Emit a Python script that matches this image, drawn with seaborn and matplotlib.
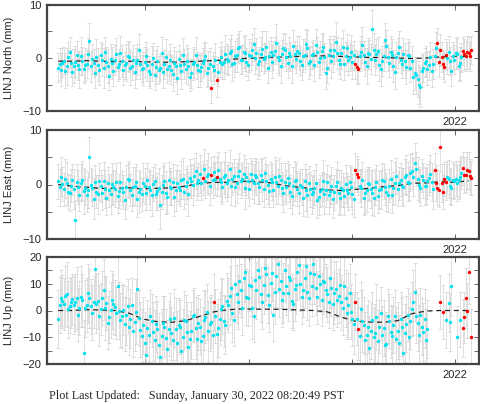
import numpy as np
import pandas as pd
import matplotlib
matplotlib.use("Agg")
import matplotlib.pyplot as plt
from matplotlib.ticker import MultipleLocator
import seaborn as sns

sns.set_style("ticks")
plt.rcParams["font.family"] = ["Liberation Sans", "DejaVu Sans"]

# ================================
# DATA (5-day GPS solutions, mm)
# ================================
dates = pd.date_range("2018-02-28", periods=293, freq="5D")
years = np.asarray(dates.year + (dates.dayofyear - 1) / 365.25)
nan = np.nan

north = [
    -1.8, -1.2, -2.2, -0.9, -0.5, -2.4, -1.6, 0.2, 1.1, -1.0,
    -2.7, -1.5, -0.8, 0.5, -1.4, -2.1, 0.3, -0.6, -2.0, -1.3,
    -1.1, 0.8, 3.3, -1.6, -0.2, -0.9, -2.9, 0.1, -1.3, -2.2,
    0.6, -0.4, -1.9, 1.2, -0.7, -1.5, -3.4, -0.2, -1.0, -2.5,
    -0.4, 0.7, -1.7, -1.1, 1.0, -0.5, -2.3, -1.4, -0.9, 0.4,
    0.2, -1.8, -1.5, -0.3, -2.6, -1.0, -0.3, 1.5, -1.2, -2.0,
    -1.9, -0.7, 0.4, -1.3, -2.4, -3.0, -1.1, 0.0, -3.3, -1.7,
    -0.6, -2.2, -1.8, 0.9, -2.7, -1.2, 0.1, -2.0, -1.5, -0.4,
    -2.2, -3.1, -0.9, -1.6, -3.8, -0.2, -1.3, -2.5, 0.5, -1.1,
    -2.0, -0.6, -1.6, -3.5, -2.9, -1.2, -0.8, 0.6, -1.4, -2.3,
    -2.5, -1.7, -1.0, -0.3, 0.3, -2.8, -1.9, -1.1, -5.6, -1.6,
    -2.3, -0.4, -4.2, -2.6, -0.7, 0.2, -1.2, -0.8, 0.8, -0.2,
    -0.5, 0.9, 1.4, -1.1, -0.9, 0.3, 0.6, 1.8, 2.1, -0.4,
    -0.3, 1.1, 1.0, -0.8, -1.4, 0.5, 0.4, 1.6, 2.6, 0.0,
    0.9, -1.2, -0.6, 0.7, 1.7, -0.1, 0.2, 2.0, -1.8, 0.4,
    1.2, -0.7, 0.5, 1.4, 2.9, 0.1, -0.4, -1.5, 0.8, 1.9,
    1.5, 0.2, -0.9, 0.9, 0.3, -1.6, 2.2, 0.7, -0.2, 1.3,
    1.0, -0.5, -1.3, 0.4, 0.6, 2.7, 1.9, -0.9, -0.5, 0.5,
    0.8, -1.4, 2.4, 1.1, -0.8, 0.0, 1.3, 2.0, 0.1, -2.8,
    -1.9, 0.6, 1.6, -0.6, 0.4, 1.5, 3.1, 0.9, -0.3, -1.1,
    0.9, 2.1, -1.2, 0.3, 1.8, -0.4, 0.2, 1.2, -0.7, 0.5,
    -1.2, -1.7, -2.0, 0.4, 1.1, 2.5, 0.5, -0.8, -1.5, 0.9,
    0.7, -0.2, 5.5, 1.6, -0.4, 0.8, 1.4, -1.3, -2.1, -0.6,
    0.3, 3.4, 2.2, 0.1, -0.9, 1.2, 0.6, -1.5, -2.6, 0.2,
    1.0, 2.0, -0.3, -1.1, 0.8, -0.5, -1.7, 0.6, 0.4, -1.9,
    -0.6, -3.6, -2.9, -3.3, -4.0, -5.0, -5.5, -2.4, -1.8, -0.9,
    -0.6, -2.0, -1.4, 0.2, -2.5, -1.1, 0.3, 1.9, 2.8, -0.8,
    1.5, 0.2, -1.2, -1.7, 0.6, 0.0, 1.1, -0.6, -2.4, 0.4,
    -0.3, 1.0, 0.8, -1.5, -1.0, 0.1, 1.3, 0.7, 0.4, 1.1,
    0.9, 0.3, 1.5,
]
north_err = [
    2.8, 3.0, 3.1, 2.7, 2.6, 3.3, 3.4, 2.9, 2.9, 2.6,
    2.5, 3.2, 3.0, 2.8, 2.7, 3.5, 3.6, 2.7, 2.8, 3.1,
    2.6, 2.9, 3.3, 3.0, 2.9, 2.6, 2.7, 3.4, 3.1, 2.8,
    2.5, 3.0, 3.8, 2.7, 2.8, 3.2, 2.6, 2.9, 3.0, 2.7,
    2.9, 3.1, 2.6, 2.8, 3.2, 3.0, 2.7, 2.6, 3.5, 2.9,
    2.8, 3.3, 2.6, 2.7, 3.0, 2.9, 2.9, 3.1, 2.7, 2.6,
    3.1, 2.8, 2.6, 3.0, 2.8, 2.7, 3.3, 2.9, 2.7, 3.2,
    2.9, 2.6, 2.6, 3.1, 3.0, 2.8, 3.4, 2.7, 2.8, 3.0,
    2.7, 3.2, 3.0, 2.9, 2.9, 2.6, 2.6, 3.3, 3.2, 2.8,
    2.8, 3.0, 3.5, 2.7, 2.7, 2.9, 2.9, 3.4, 2.6, 3.1,
    3.0, 2.7, 2.8, 3.1, 2.7, 2.6, 3.3, 3.0, 2.9, 2.8,
    2.6, 3.2, 3.1, 2.7, 2.8, 2.9, 2.7, 3.1, 3.6, 2.8,
    2.8, 2.6, 3.0, 3.3, 2.6, 2.9, 3.2, 2.8, 2.9, 2.7,
    2.7, 3.0, 3.4, 2.6, 2.8, 3.1, 2.6, 2.9, 3.1, 3.0,
    2.9, 2.7, 2.7, 3.2, 3.3, 2.8, 2.6, 3.0, 3.0, 2.9,
    2.8, 3.1, 2.7, 2.6, 3.5, 2.9, 2.9, 3.3, 2.6, 2.8,
    3.1, 2.7, 2.8, 3.0, 2.7, 3.2, 3.0, 2.6, 2.6, 2.9,
    3.2, 2.8, 2.9, 3.1, 2.7, 2.7, 3.4, 3.0, 2.8, 2.6,
    2.6, 3.0, 3.0, 2.8, 2.9, 3.3, 3.3, 2.7, 2.8, 3.1,
    2.8, 2.9, 2.6, 3.2, 3.1, 2.6, 3.6, 3.0, 2.7, 2.8,
    2.9, 3.1, 3.0, 2.7, 2.8, 2.9, 2.6, 3.2, 3.2, 2.7,
    2.7, 3.0, 2.9, 2.8, 3.0, 3.4, 2.8, 2.6, 3.4, 2.9,
    2.7, 2.8, 3.5, 3.1, 2.9, 2.7, 2.6, 3.0, 3.1, 2.8,
    2.8, 3.2, 3.0, 2.6, 2.7, 2.9, 2.9, 3.1, 3.3, 2.8,
    2.8, 3.0, 2.6, 2.7, 3.0, 3.3, 3.2, 2.9, 2.7, 2.6,
    2.9, 3.2, 3.1, 3.5, 3.4, 3.6, 3.8, 3.0, 2.8, 2.7,
    2.9, 3.1, 2.7, 2.9, 3.0, 2.8, 2.6, 3.0, 2.8, 2.7,
    3.1, 2.9, 2.7, 2.8, 2.9, 3.1, 3.0, 2.7, 2.8, 2.6,
    2.7, 3.0, 2.9, 2.8, 3.1, 2.7, 2.6, 2.9, 2.8, 3.1,
    3.0, 2.8, 2.7,
]
north_red = [108, 112, 210, 211, 212, 268, 269, 270, 271, 272, 273, 274,
             286, 287, 288, 289, 290, 291, 292]
north_model = [
    -0.6, -0.6, -0.5, -0.6, -0.7, -0.6, -0.7, -0.8, -0.8, -0.7,
    -0.6, -0.5, -0.3, -0.1, 0.0, 0.1, 0.2, 0.3, 0.4, 0.4,
    0.3, 0.2, 0.1, 0.1, 0.0, -0.1, 0.0, 0.2, 0.3, 0.3,
]

east = [
    0.6, -0.5, 1.4, 0.1, -0.9, 1.1, 0.2, -1.3, -1.6, -0.2,
    0.9, -0.8, -6.5, 0.5, -0.4, -1.9, 0.3, 0.8, -1.2, -0.6,
    -2.0, -1.0, 5.0, 0.0, -0.7, -2.6, 0.4, -1.3, -1.8, 0.6,
    -0.3, -1.5, 0.7, -0.9, -2.4, 0.2, -1.1, -1.7, 0.1, -0.5,
    -0.9, 0.4, -2.2, -1.2, 0.5, -0.6, -1.4, -2.9, -0.5, 1.0,
    0.8, -1.0, -1.9, -0.4, -0.2, 0.5, -2.7, -1.3, -0.8, -1.8,
    0.3, -0.2, -1.6, 0.9, -0.4, -1.1, -2.0, 0.1, 0.6, -1.7,
    -1.2, -0.6, -3.8, -1.4, -0.1, 0.7, -1.5, -2.3, 0.9, -0.4,
    -0.7, 0.5, -2.3, -1.1, 0.2, -0.5, -1.0, 0.9, 1.1, -1.3,
    -0.3, 0.4, -1.7, 1.2, 0.7, -0.1, 1.5, 2.4, 0.2, 0.9,
    2.0, 0.3, 1.2, 2.8, 0.6, 1.5, 1.9, -0.2, 1.7, 0.8,
    2.3, 1.1, 1.4, 2.6, 1.0, 0.4, -0.5, 1.3, 1.8, 0.2,
    0.9, 2.9, -0.2, 1.0, 1.6, -0.4, 0.3, 1.5, 2.4, 0.6,
    1.1, 2.0, -0.6, 1.4, 0.7, -0.9, 1.9, 0.8, 0.2, 1.7,
    1.3, 0.3, -0.4, 1.8, 0.8, -0.8, 2.1, 0.6, 0.0, -1.2,
    1.0, 0.5, -1.1, 1.4, 0.5, -0.3, 1.6, 0.9, -0.7, -1.6,
    0.4, -0.5, 1.2, 0.2, -1.3, -2.1, -0.2, 0.6, 0.9, -0.8,
    -1.6, -0.1, -0.5, -2.4, 0.6, -1.0, -2.0, 0.3, -0.9, -1.8,
    -1.4, -0.6, 0.2, -2.9, -2.3, -1.2, -0.8, 0.7, -1.7, -1.1,
    0.4, -2.0, -1.2, -0.2, -2.6, -1.4, -0.3, 0.5, -1.5, -2.4,
    -0.6, -1.0, -2.1, 0.1, -1.0, -1.6, 0.5, -0.4, -1.8, -2.7,
    2.6, 1.9, 1.4, -0.3, -0.7, 0.8, -2.4, -1.5, -1.1, 0.2,
    0.1, -0.8, -1.6, -2.5, -0.4, 0.4, -2.2, -1.0, -0.9, 0.9,
    0.6, -0.5, -1.3, -2.0, -0.2, 1.0, -1.9, -0.7, 0.3, 1.5,
    -0.8, 0.2, 0.9, -0.3, -0.5, 1.4, 1.7, 0.5, 0.2, 2.2,
    2.5, 1.3, 4.0, 2.8, 1.1, 0.0, -0.6, 1.6, 0.8, -0.2,
    -0.3, 0.6, 1.2, 2.0, 0.4, -0.9, 2.7, 0.3, -0.6, -1.0,
    6.9, 0.2, -1.4, 1.0, 0.5, 1.3, 1.0, -0.3, -0.6, 0.8,
    0.7, 1.1, 0.2, 0.9, 1.3, 2.2, 3.0, 1.7, 1.8, 2.6,
    2.4, 1.5, 1.2,
]
east_err = [
    3.2, 3.4, 3.6, 3.1, 3.0, 3.5, 3.9, 3.2, 3.3, 3.0,
    2.9, 3.7, 3.5, 3.3, 3.1, 2.9, 3.4, 3.6, 4.2, 3.2,
    3.0, 3.3, 3.7, 3.1, 3.3, 3.8, 3.1, 3.0, 3.6, 3.4,
    2.9, 3.2, 3.4, 3.5, 3.2, 3.0, 3.0, 3.7, 3.8, 3.1,
    3.3, 3.5, 3.0, 3.2, 3.6, 3.1, 3.1, 3.4, 4.0, 3.3,
    3.2, 3.0, 3.0, 3.6, 3.5, 3.2, 3.3, 3.9, 3.1, 3.0,
    3.6, 3.3, 3.0, 3.1, 3.2, 3.5, 3.8, 3.2, 3.1, 3.0,
    3.4, 3.6, 4.3, 3.1, 3.5, 3.3, 3.9, 3.0, 3.2, 3.4,
    3.1, 3.2, 3.5, 3.7, 3.3, 3.1, 3.0, 3.5, 3.7, 3.2,
    3.2, 3.0, 4.0, 3.4, 3.1, 3.6, 3.4, 3.3, 3.0, 3.1,
    3.5, 3.2, 3.2, 3.8, 3.1, 3.0, 3.8, 3.5, 3.3, 3.2,
    3.0, 3.1, 3.6, 3.4, 3.2, 3.7, 3.1, 3.0, 4.1, 3.3,
    3.2, 3.5, 3.5, 3.0, 3.0, 3.6, 3.7, 3.2, 3.3, 3.1,
    3.1, 3.4, 3.9, 3.3, 3.2, 3.0, 3.0, 3.5, 3.6, 3.2,
    3.3, 3.8, 3.1, 3.1, 3.8, 3.4, 3.0, 3.2, 3.5, 3.0,
    3.2, 3.3, 3.1, 3.6, 4.0, 3.2, 3.3, 3.0, 3.0, 3.4,
    3.6, 3.1, 3.2, 3.5, 3.1, 3.3, 3.5, 3.7, 3.0, 3.2,
    3.7, 3.0, 3.3, 3.4, 3.1, 3.9, 3.9, 3.1, 3.2, 3.6,
    3.0, 3.2, 3.5, 3.3, 3.3, 3.0, 3.1, 3.8, 3.8, 3.1,
    3.2, 3.5, 3.0, 3.4, 3.6, 3.2, 3.1, 3.6, 4.1, 3.0,
    3.3, 3.2, 3.5, 3.5, 3.2, 3.1, 3.0, 3.7, 3.7, 3.2,
    3.1, 3.3, 3.3, 3.0, 3.5, 3.4, 3.2, 3.9, 3.9, 3.1,
    3.1, 3.5, 4.0, 3.3, 3.3, 3.2, 3.0, 3.4, 3.6, 3.0,
    3.2, 3.3, 3.5, 3.1, 3.1, 3.5, 3.3, 3.0, 3.8, 3.3,
    3.2, 3.0, 3.0, 3.4, 3.5, 3.2, 3.7, 3.6, 3.1, 3.4,
    3.3, 3.5, 3.6, 3.1, 3.9, 3.3, 3.4, 3.0, 3.2, 3.5,
    3.3, 3.2, 3.1, 3.4, 3.5, 3.6, 3.0, 3.3, 3.2, 3.1,
    4.4, 3.5, 3.1, 3.2, 3.3, 3.0, 3.5, 3.3, 3.2, 3.4,
    3.1, 3.2, 3.3, 3.5, 3.6, 3.1, 3.0, 3.3, 3.2, 3.4,
    3.5, 3.2, 3.1,
]
east_red = [102, 108, 112, 210, 211, 212, 266, 267, 268, 269, 270, 271,
            272, 273, 274, 286, 287, 288, 289, 290, 291, 292]
east_model = [
    0.0, -0.3, -0.5, -0.7, -0.7, -0.6, -0.8, -0.7, -0.6, -0.3,
    0.2, 0.4, 0.4, 0.6, 0.5, 0.3, -0.2, -0.5, -0.8, -1.0,
    -1.1, -0.9, -0.7, -0.4, -0.2, 0.2, 0.3, 0.5, 0.4, 0.7,
]

up = [
    -3.2, 2.0, 4.8, 3.5, 2.5, 5.5, 6.0, 0.5, 1.8, 3.0,
    4.2, 2.2, 3.0, 4.5, -1.5, 1.0, 5.2, 3.8, -16.0, 0.8,
    2.1, 6.5, 4.5, 1.5, -0.8, 3.2, 15.5, 2.6, 3.6, -2.0,
    0.5, 4.8, 7.8, 1.0, 2.9, -4.5, -2.4, 0.2, 4.0, 2.5,
    1.2, -1.0, 9.0, 0.0, -3.5, -2.2, 0.3, -5.0, -1.8, 1.5,
    -6.0, -3.0, 2.2, -7.5, -4.3, -0.5, 8.0, -2.8, -7.2, -9.5,
    -5.5, -12.0, -16.6, -6.5, -9.0, -2.0, -3.8, -8.0, -11.2, -5.0,
    -7.0, -13.0, -17.5, -9.5, -4.5, -6.0, -10.3, -14.5, -6.8, -3.0,
    -8.5, -11.0, -2.9, -7.0, -12.0, -5.5, -6.2, -15.0, -9.8, -3.5,
    -4.0, -8.0, -13.5, -10.5, -7.5, -2.0, -1.8, -6.5, -10.6, -4.5,
    -6.0, -11.5, -9.5, -3.5, -2.5, -0.5, -7.8, -5.0, -4.2, -9.0,
    3.0, -2.0, -8.8, -6.5, -3.0, 0.5, 1.5, -4.0, -5.5, 3.5,
    2.0, 5.5, 8.5, -1.0, -3.5, 10.0, 6.2, 3.0, 11.0, 7.5,
    0.8, 12.0, 14.5, 5.0, 4.5, 9.5, 9.0, 1.0, -2.0, 11.5,
    7.5, 15.0, 12.5, 6.0, 3.2, 9.5, 16.0, 13.5, 5.8, 2.0,
    10.2, 14.0, -1.5, 7.0, 13.0, 17.5, 8.0, 11.0, 4.0, 6.5,
    15.0, 9.0, 6.5, 12.5, 11.5, 3.5, 2.5, 8.0, 9.5, 14.5,
    17.0, 10.0, 5.0, 7.5, 12.0, 16.5, 7.0, 4.5, 14.0, 9.0,
    17.5, 13.5, 8.5, 5.0, 13.0, 10.0, 4.0, 11.0, 10.5, 7.5,
    6.0, 3.0, 12.0, 8.5, 2.5, 6.5, 8.0, 4.0, 5.5, 9.5,
    3.0, 1.0, 9.0, 4.5, -1.0, 2.0, 6.5, -0.5, -3.0, -5.0,
    3.2, -3.0, -7.0, -9.5, 0.5, -4.0, -5.5, -11.0, -9.0, -6.0,
    -14.0, -7.5, -3.5, -10.0, -8.5, -2.5, -11.5, -6.0, -1.0, -9.0,
    -6.5, -13.0, -12.5, -2.0, -4.0, -8.0, -9.5, -5.5, -2.0, -10.5,
    -7.5, -12.0, -3.0, -6.0, -16.0, -8.5, -5.0, -1.5, -10.0, -4.0,
    0.5, 3.0, 7.0, -2.0, -4.5, -9.0, -1.5, -6.0, -8.0, -3.0,
    -11.0, -7.0, nan, nan, nan, nan, nan, nan, nan, nan,
    3.2, nan, -0.5, nan, -3.5, nan, 2.8, -4.3, 9.0, nan,
    nan, nan, -10.0, nan, -3.5, nan, -6.5, -2.5, 4.7, 0.0,
    14.5, nan, -10.0,
]
up_err = [
    11.0, 10.4, 10.5, 9.9, 9.8, 11.3, 12.0, 10.6, 10.2, 9.7,
    9.5, 10.8, 10.8, 11.6, 9.9, 10.2, 11.5, 9.8, 12.5, 10.7,
    10.0, 11.0, 11.2, 10.3, 10.4, 9.6, 12.8, 10.9, 10.6, 11.4,
    9.7, 10.1, 11.4, 12.0, 10.1, 9.9, 9.8, 10.5, 10.9, 11.1,
    10.3, 9.8, 11.6, 10.6, 10.0, 11.9, 9.6, 10.2, 11.1, 10.4,
    10.5, 11.2, 9.9, 10.0, 10.7, 12.2, 11.8, 10.3, 10.2, 9.9,
    10.6, 11.5, 12.2, 10.4, 10.1, 9.8, 9.8, 11.0, 11.3, 10.5,
    10.4, 12.0, 12.6, 10.2, 10.0, 11.4, 11.0, 10.8, 10.3, 9.7,
    9.9, 10.6, 10.8, 11.5, 11.7, 10.0, 10.2, 12.3, 10.5, 10.9,
    9.7, 11.1, 12.0, 10.4, 10.6, 9.8, 10.1, 11.6, 11.2, 10.3,
    10.4, 9.9, 10.9, 11.3, 9.8, 10.5, 11.4, 10.2, 10.0, 12.1,
    10.6, 10.0, 11.1, 10.8, 9.9, 11.5, 10.3, 9.7, 10.8, 10.4,
    10.2, 11.0, 11.5, 10.6, 9.8, 12.4, 10.7, 10.1, 12.1, 9.9,
    10.0, 11.2, 11.3, 10.5, 10.4, 9.8, 10.9, 11.6, 9.7, 10.3,
    10.6, 12.0, 11.8, 10.2, 10.1, 10.9, 12.4, 11.4, 10.3, 10.0,
    11.0, 10.5, 9.9, 12.2, 11.6, 10.7, 10.5, 9.9, 10.0, 11.3,
    12.0, 10.8, 10.4, 11.5, 11.2, 10.1, 9.8, 12.0, 10.7, 10.6,
    12.3, 10.2, 10.1, 9.8, 11.0, 11.7, 10.5, 10.3, 11.7, 10.9,
    12.2, 11.2, 10.3, 9.9, 11.4, 10.6, 9.9, 12.3, 10.8, 10.0,
    10.2, 9.7, 11.1, 10.4, 9.7, 11.5, 10.6, 10.2, 10.0, 11.4,
    10.4, 10.0, 11.3, 10.8, 9.8, 12.0, 10.9, 10.3, 10.1, 11.1,
    10.6, 9.9, 11.5, 10.7, 10.0, 11.6, 10.7, 10.4, 11.2, 9.8,
    12.0, 10.6, 10.3, 11.1, 10.9, 12.4, 11.6, 10.0, 9.9, 10.7,
    10.5, 11.3, 11.8, 10.1, 10.2, 9.9, 11.0, 10.5, 9.8, 11.8,
    10.6, 10.2, 10.1, 11.0, 12.4, 10.8, 10.4, 9.9, 11.3, 10.5,
    10.0, 12.1, 10.8, 10.0, 10.5, 11.0, 9.9, 10.6, 10.7, 11.2,
    11.4, 10.9, 10.5, 10.5, 10.5, 10.5, 10.5, 10.5, 10.5, 10.5,
    10.2, 10.5, 10.0, 10.5, 10.6, 10.5, 11.0, 10.8, 10.9, 10.5,
    10.5, 10.5, 11.5, 10.5, 10.3, 10.5, 10.8, 9.6, 11.2, 10.1,
    12.0, 10.5, 10.4,
]
up_red = [110, 210, 212, 270, 272, 286, 287, 288, 289, 290, 292]
up_model = [
    0.0, 0.0, 0.3, 0.2, 0.0, -1.0, -3.2, -4.2, -4.4, -3.8,
    -2.2, -0.5, 0.3, 0.6, 0.5, 0.5, 0.4, 0.2, 0.0, -0.5,
    -2.5, -4.0, -4.3, -4.4, -3.8, -1.2, -0.2, 0.0, 0.0, 0.0,
]

footer = "Plot Last Updated:   Sunday, January 30, 2022 08:20:49 PST"

# ================================
# PLOT
# ================================
fig = plt.figure(figsize=(4.81, 4.04), dpi=100)
ax1 = fig.add_axes([47 / 481, 1 - 111 / 404, 432 / 481, 106 / 404])
ax2 = fig.add_axes([47 / 481, 1 - 239 / 404, 432 / 481, 109 / 404])
ax3 = fig.add_axes([47 / 481, 1 - 364 / 404, 432 / 481, 107 / 404])


def draw_panel(ax, vals, errs, red_idx, model, label, lim):
    df = pd.DataFrame({"year": years, "val": vals, "err": errs})
    df["red"] = False
    df.loc[red_idx, "red"] = True
    df = df.dropna(subset=["val"])

    ax.errorbar(df["year"], df["val"], yerr=df["err"], fmt="none",
                ecolor="#d2d2d2", elinewidth=0.5, capsize=1.5,
                capthick=0.5, zorder=1)
    sns.lineplot(x=years[::10], y=model, ax=ax, color="#222222",
                 linewidth=0.9, linestyle=(0, (4, 3)), zorder=2)
    sns.scatterplot(data=df[~df["red"]], x="year", y="val", ax=ax,
                    color="#00e3f0", s=6, linewidth=0, zorder=3)
    sns.scatterplot(data=df[df["red"]], x="year", y="val", ax=ax,
                    color="#ff0000", s=6, linewidth=0, zorder=4)

    ax.set_xlim(2018.05, 2022.23)
    ax.set_ylim(-lim, lim)
    ax.yaxis.set_major_locator(MultipleLocator(10))
    ax.yaxis.set_minor_locator(MultipleLocator(5))
    ax.set_xticks([2019, 2020, 2021, 2022])
    ax.set_xticklabels(["", "", "", "2022"])
    ax.set_xlabel("")
    ax.set_ylabel(label, fontsize=8, labelpad=6)
    ax.tick_params(which="both", direction="in", length=3.5, width=0.7,
                   color="#666666", top=True, right=True, labelsize=8, pad=4)
    for s in ax.spines.values():
        s.set_linewidth(1.6)
        s.set_color("#444444")


draw_panel(ax1, north, north_err, north_red, north_model, "LINJ North (mm)", 10)
draw_panel(ax2, east, east_err, east_red, east_model, "LINJ East (mm)", 10)
draw_panel(ax3, up, up_err, up_red, up_model, "LINJ Up (mm)", 20)

fig.text(49 / 481, 1 - 396 / 404, footer, family="Liberation Serif",
         fontsize=8.7, va="center", ha="left")

fig.savefig("out.png", dpi=100)
